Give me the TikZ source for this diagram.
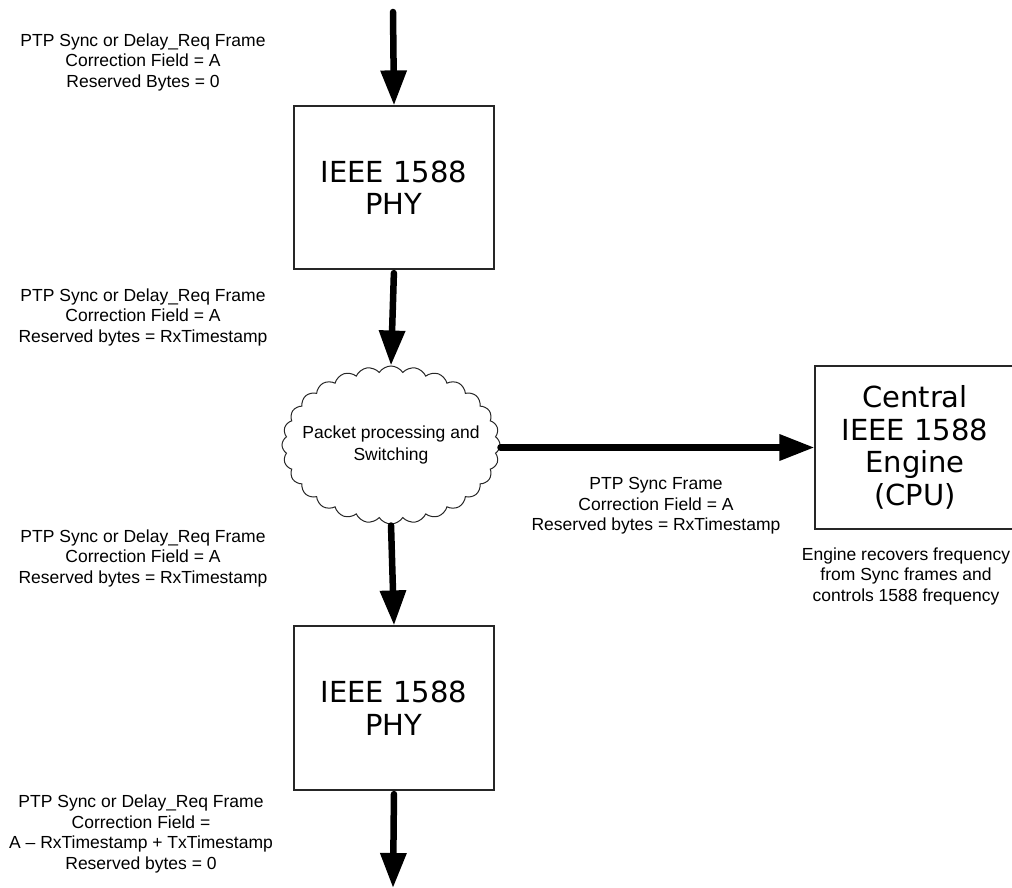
\documentclass[tikz,border=0pt]{standalone}
\usepackage{fontspec}
\setmainfont{Liberation Sans}
\newfontfamily\boxfont{DejaVu Sans}
\usetikzlibrary{arrows.meta,shapes.symbols}
\begin{document}
\begin{tikzpicture}[x=1pt,y=-1pt,
  lbl/.style={align=center,inner sep=0pt,font=\fontsize{17.5}{20.5}\selectfont},
  blk/.style={draw=black!85,line width=1.2pt,minimum width=200pt,inner sep=0pt,align=center,
              font=\boxfont\fontsize{29}{32.5}\selectfont},
  flow/.style={line width=6.5pt,line cap=round,-{Triangle[length=35pt,width=25pt]}},
]
\useasboundingbox (0,0) rectangle (1012,888);
% blocks
\node[blk,minimum height=163pt] (phy1) at (394,187.5) {IEEE 1588\\PHY};
\node[blk,minimum height=164pt] (phy2) at (394,708) {IEEE 1588\\PHY};
\node[blk,minimum height=163pt] (cpu) at (915,447.5) {Central\\IEEE 1588\\Engine\\(CPU)};
\node[draw=black!85,line width=1pt,shape=cloud,cloud puffs=28,cloud puff arc=115,
      cloud ignores aspect,minimum width=218pt,minimum height=158pt,inner sep=0pt] (cloud) at (391,445) {};
\node[lbl,font=\fontsize{17.5}{21.5}\selectfont] (cloudtxt) at (cloud.center) {Packet processing and\\Switching};
% end coordinates
\coordinate (top) at (393,12);
\coordinate (bot) at (393,888);
% connectors
\draw[flow] (top) -- (phy1.north);
\draw[flow,shorten <=3.5pt] (phy1.south) -- (cloud.north);
\draw[flow,shorten <=1pt] (cloud.south) -- (phy2.north);
\draw[flow,shorten <=3.5pt] (phy2.south) -- (bot);
\draw[flow] (cloud.east |- cpu.west) -- (cpu.west);
% labels
\node[lbl] (l1) at (143,62) {PTP Sync or Delay\_Req Frame\\Correction Field = A\\Reserved Bytes = 0};
\node[lbl] (l2) at (143,317) {PTP Sync or Delay\_Req Frame\\Correction Field = A\\Reserved bytes = RxTimestamp};
\node[lbl] (l3) at (143,558) {PTP Sync or Delay\_Req Frame\\Correction Field = A\\Reserved bytes = RxTimestamp};
\node[lbl] (l4) at (141,834) {PTP Sync or Delay\_Req Frame\\Correction Field =\\A – RxTimestamp + TxTimestamp\\Reserved bytes = 0};
\node[lbl] (l5) at (656,506) {PTP Sync Frame\\Correction Field = A\\Reserved bytes = RxTimestamp};
\node[lbl] (l6) at (906,576) {Engine recovers frequency\\from Sync frames and\\controls 1588 frequency};
\end{tikzpicture}
\end{document}
